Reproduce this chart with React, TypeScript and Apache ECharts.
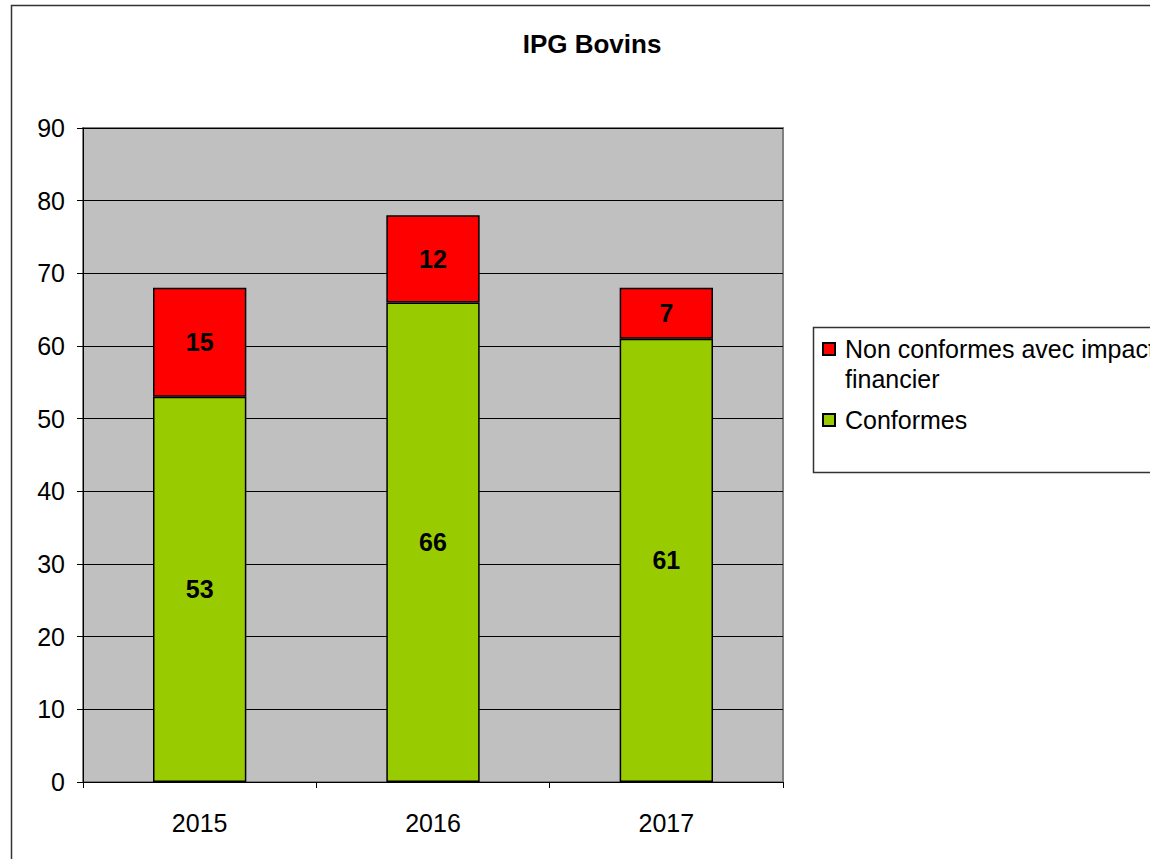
import React, { useEffect, useRef } from "react";
import * as echarts from "echarts";

const categories = ["2015", "2016", "2017"];
const conformes = [53, 66, 61];
const nonConformes = [15, 12, 7];
const yTicks = { min: 0, max: 90, interval: 10 };
const titleText = "IPG Bovins";
const nameNon = "Non conformes avec impact financier";
const nameConf = "Conformes";

const FONT = "'Liberation Sans', Arial, sans-serif";

export default function App() {
  const ref = useRef<HTMLDivElement>(null);
  useEffect(() => {
    if (!ref.current) return;
    const chart = echarts.init(ref.current, null, { renderer: "svg" });
    const label = {
      show: true,
      position: "inside",
      color: "#000",
      fontWeight: "bold",
      fontSize: 25,
      fontFamily: FONT,
    };
    chart.setOption({
      animation: false,
      backgroundColor: "#fff",
      textStyle: { fontFamily: FONT },
      title: {
        text: titleText,
        left: 592,
        top: 31,
        padding: 0,
        textAlign: "center",
        textStyle: { fontSize: 26, fontWeight: "bold", color: "#000", fontFamily: FONT },
      },
      grid: {
        left: 83,
        top: 128,
        width: 700,
        height: 654,
        show: true,
        backgroundColor: "#c0c0c0",
        borderColor: "#808080",
        borderWidth: 2,
        containLabel: false,
      },
      legend: {
        data: [nameNon, nameConf],
        orient: "vertical",
        left: 822,
        top: 304,
        padding: 0,
        itemGap: 11,
        itemWidth: 12,
        itemHeight: 12,
        icon: "rect",
        formatter: (n: string) =>
          n === nameNon ? "\nNon conformes avec impact\nfinancier" : n,
        textStyle: {
          fontSize: 25,
          lineHeight: 30,
          color: "#000",
          fontFamily: FONT,
          padding: [0, 0, 0, 5],
        },
        selectedMode: false,
      },
      xAxis: {
        type: "category",
        data: categories,
        axisLine: { show: true, lineStyle: { color: "#000", width: 1 } },
        axisTick: { show: true, alignWithLabel: false, interval: 0, length: 6, lineStyle: { color: "#000" } },
        axisLabel: { color: "#000", fontSize: 25, margin: 28, fontFamily: FONT },
        splitLine: { show: false },
      },
      yAxis: {
        type: "value",
        min: yTicks.min,
        max: yTicks.max,
        interval: yTicks.interval,
        axisLine: { show: true, lineStyle: { color: "#000", width: 1 } },
        axisTick: { show: true, length: 6, lineStyle: { color: "#000" } },
        axisLabel: { color: "#000", fontSize: 25, margin: 18, fontFamily: FONT },
        splitLine: { show: true, lineStyle: { color: "#000", width: 1 } },
      },
      series: [
        {
          name: nameConf,
          type: "bar",
          stack: "total",
          data: conformes,
          barWidth: "40%",
          itemStyle: { color: "#99cc00", borderColor: "#000", borderWidth: 1.5 },
          label,
        },
        {
          name: nameNon,
          type: "bar",
          stack: "total",
          data: nonConformes,
          barWidth: "40%",
          itemStyle: { color: "#ff0000", borderColor: "#000", borderWidth: 1.5 },
          label,
        },
      ],
      graphic: [
        {
          type: "rect",
          shape: { x: 11.5, y: 5.5, width: 1160, height: 870 },
          style: { fill: "none", stroke: "#333", lineWidth: 1.5 },
          silent: true,
        },
        {
          type: "rect",
          shape: { x: 813.5, y: 327.5, width: 400, height: 145 },
          style: { fill: "none", stroke: "#333", lineWidth: 1.5 },
          silent: true,
        },
      ],
    });
    return () => chart.dispose();
  }, []);
  return (
    <div
      ref={ref}
      style={{ position: "absolute", left: 0, top: 0, width: 1150, height: 859 }}
    />
  );
}
